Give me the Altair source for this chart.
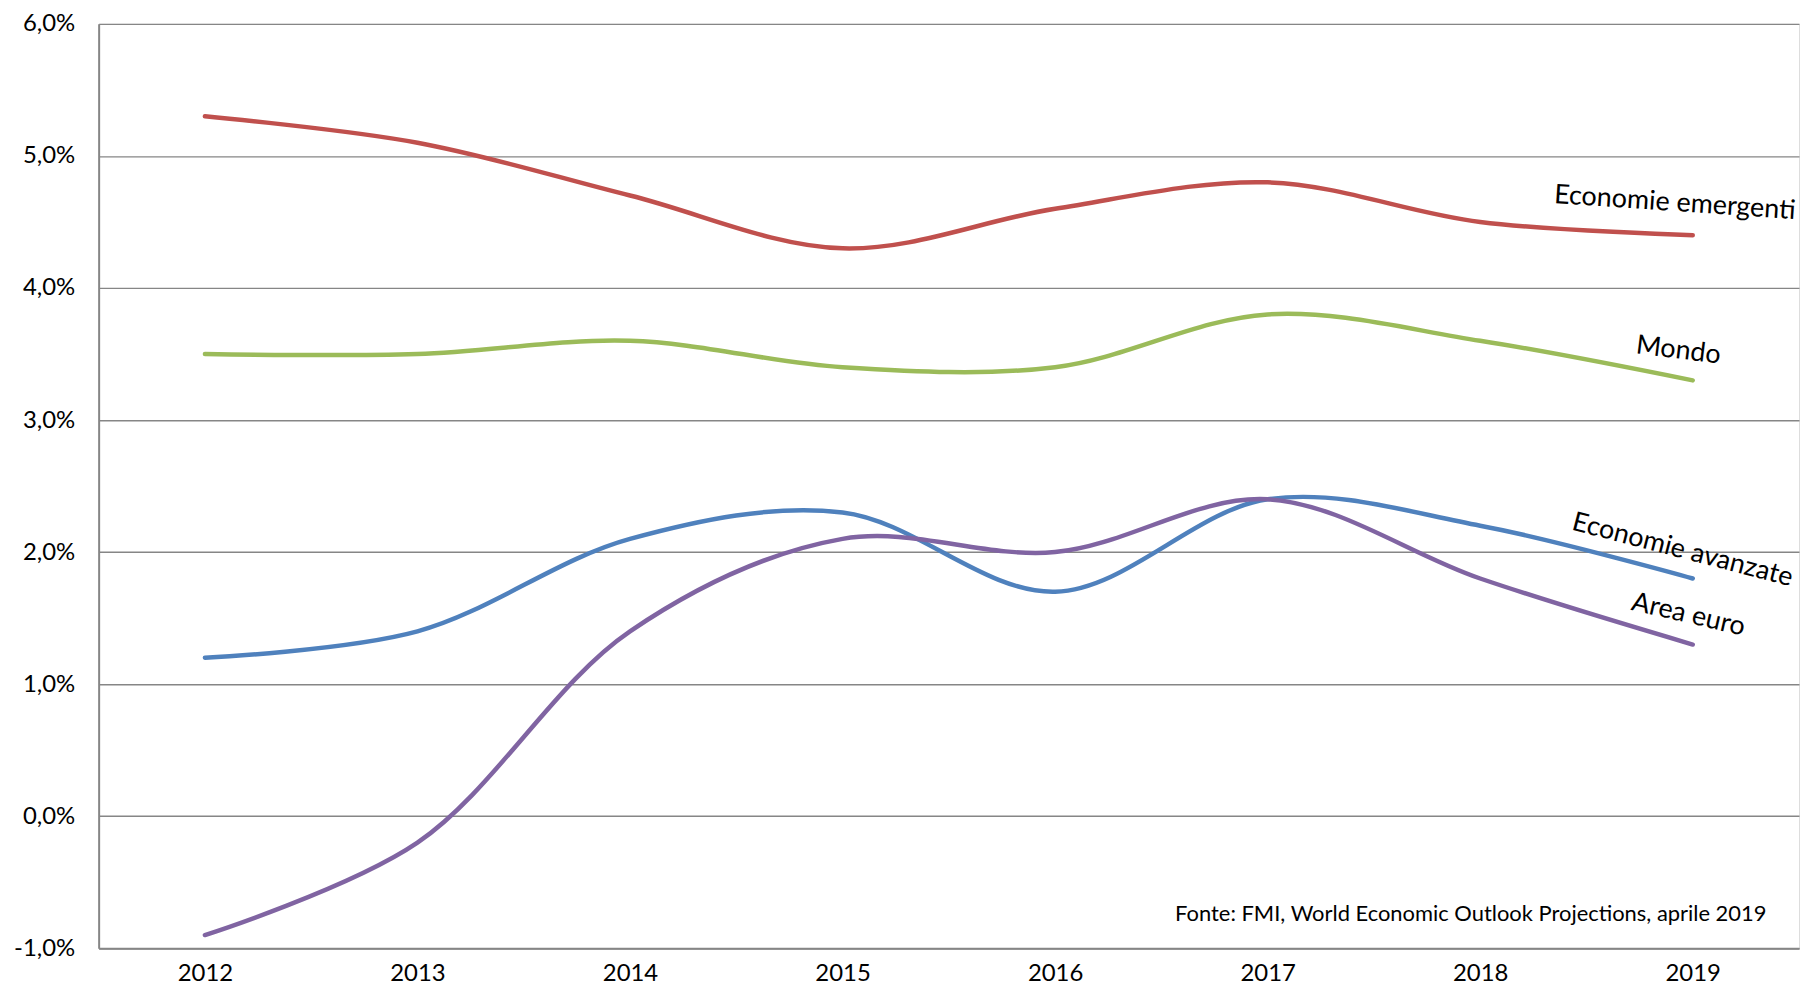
import altair as alt
import pandas as pd

years = ["2012", "2013", "2014", "2015", "2016", "2017", "2018", "2019"]
series_names = ["Economie emergenti", "Mondo", "Economie avanzate", "Area euro"]
emergenti = [5.3, 5.1, 4.7, 4.3, 4.6, 4.8, 4.5, 4.4]
mondo = [3.5, 3.5, 3.6, 3.4, 3.4, 3.8, 3.6, 3.3]
avanzate = [1.2, 1.4, 2.1, 2.3, 1.7, 2.4, 2.2, 1.8]
area_euro = [-0.9, -0.2, 1.4, 2.1, 2.0, 2.4, 1.8, 1.3]
colors = ["#C0504D", "#9BBB59", "#4F81BD", "#8064A2"]
y_ticks = [-1, 0, 1, 2, 3, 4, 5, 6]
source_text = "Fonte: FMI, World Economic Outlook Projections, aprile 2019"

values = [emergenti, mondo, avanzate, area_euro]
rows = []
for name, vals in zip(series_names, values):
    for yr, v in zip(years, vals):
        rows.append({"anno": yr, "serie": name, "valore": v})
df = pd.DataFrame(rows)

FONT = "Lato"
x_enc = alt.X("anno:O", sort=years,
              scale=alt.Scale(type="point", padding=0.5),
              axis=alt.Axis(title=None, labelAngle=0, ticks=False, domain=True,
                            domainColor="#868686", domainWidth=2,
                            labelFont=FONT, labelFontSize=24, labelColor="#000000",
                            labelPadding=13, grid=False))
y_enc = alt.Y("valore:Q", scale=alt.Scale(domain=[-1, 6], nice=False, zero=False),
              axis=alt.Axis(title=None, values=y_ticks, labelExpr="datum.value + ',0%'",
                            ticks=False, domainColor="#868686", domainWidth=2,
                            gridColor="#868686", gridWidth=1.4,
                            labelFont=FONT, labelFontSize=24, labelColor="#000000",
                            labelPadding=24))

lines = alt.Chart(df).mark_line(interpolate="catmull-rom", strokeWidth=4.5, strokeCap="round").encode(
    x=x_enc, y=y_enc,
    color=alt.Color("serie:N", scale=alt.Scale(domain=series_names, range=colors), legend=None),
    detail="serie:N",
)

label_params = [
    ("Economie emergenti", 4.4, -20, -31, 3.8),
    ("Mondo", 3.3, -18, -28, 7),
    ("Economie avanzate", 1.8, -17, -25, 14.5),
    ("Area euro", 1.3, -11, -28, 13),
]
layers = [lines]
for name, v, dx, dy, ang in label_params:
    ldf = pd.DataFrame({"anno": ["2019"], "valore": [v], "testo": [name]})
    layers.append(
        alt.Chart(ldf).mark_text(font=FONT, fontSize=27, color="#000000", align="center",
                                 baseline="middle", dx=dx, dy=dy, angle=ang)
        .encode(x=alt.X("anno:O", sort=years), y="valore:Q", text="testo:N")
    )

sdf = pd.DataFrame({"anno": ["2019"], "valore": [-0.74], "testo": [source_text]})
layers.append(
    alt.Chart(sdf).mark_text(font=FONT, fontSize=22, color="#000000", align="right",
                             baseline="middle", dx=74)
    .encode(x=alt.X("anno:O", sort=years), y="valore:Q", text="testo:N")
)

chart = alt.layer(*layers).properties(
    width=1707, height=928,
    autosize=alt.AutoSizeParams(type="none"),
    padding={"left": 91, "top": 14, "right": 2, "bottom": 46},
).configure_view(stroke=None).configure(background="#FFFFFF")

chart.save("out.html", embed_options={"renderer": "svg", "actions": False})
